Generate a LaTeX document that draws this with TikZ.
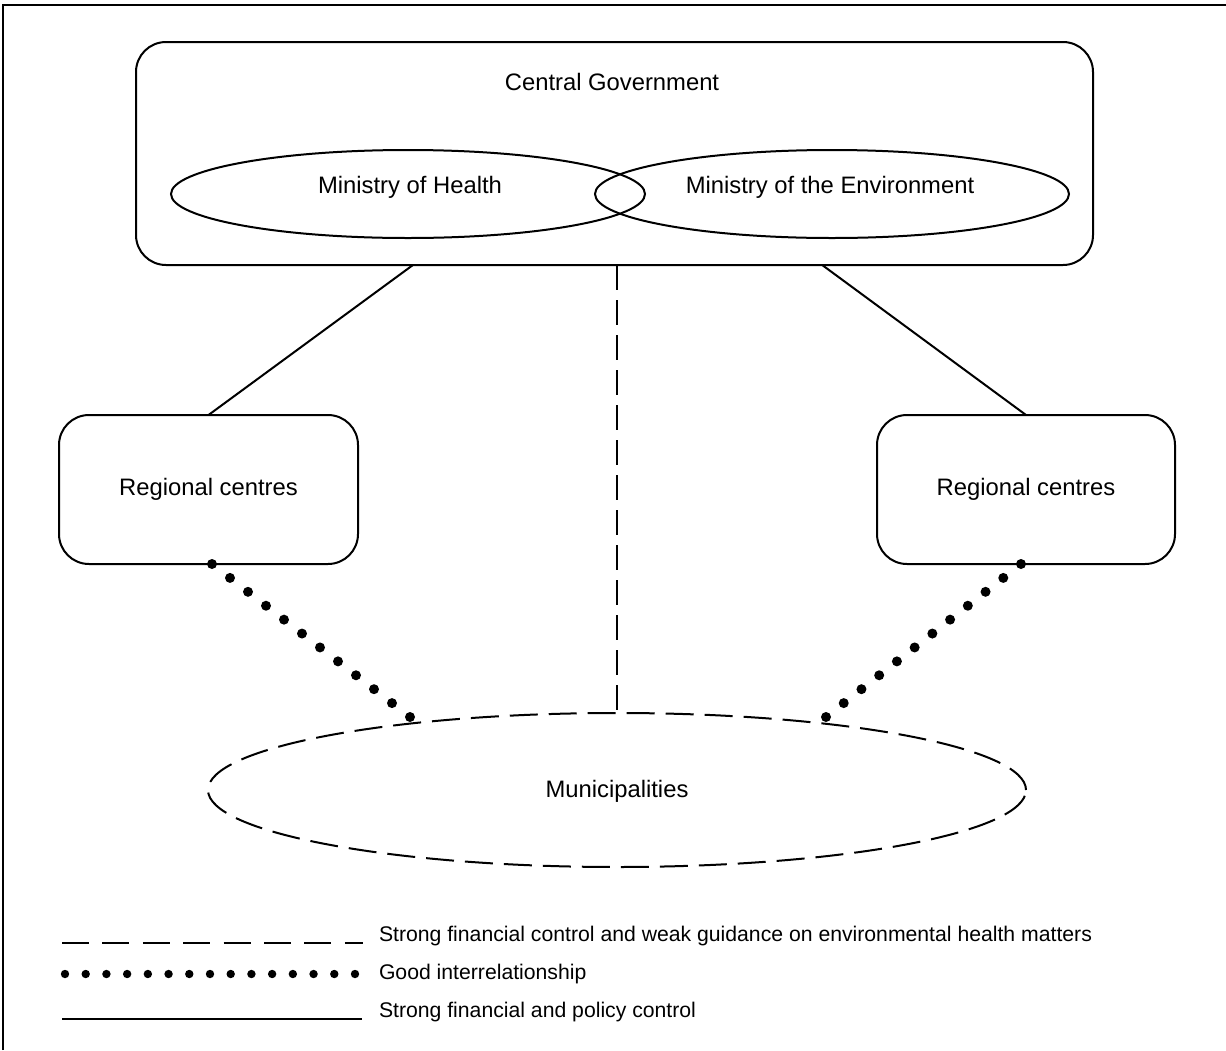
\documentclass[tikz,border=0pt]{standalone}
\usepackage{fontspec}
\setmainfont{Liberation Sans}
\usetikzlibrary{shapes.geometric,calc}
\begin{document}
\begin{tikzpicture}[x=0.5pt,y=-0.5pt,line width=1pt,
  every node/.style={inner sep=0pt,outer sep=0pt},
  rbox/.style={draw,rectangle,rounded corners=15pt},
  ell/.style={draw,ellipse},
  lbl/.style={font=\fontsize{11.9}{14}\selectfont},
  leg/.style={font=\fontsize{10.6}{13}\selectfont,anchor=west},
  dashlink/.style={dash pattern=on 12.5pt off 5pt},
  dashell/.style={dash pattern=on 14pt off 5.5pt},
  legdash/.style={dash pattern=on 13.5pt off 6.7pt},
  bigdot/.style={fill=black,draw=none},
]
\useasboundingbox (0,0) rectangle (1226,1050);
% outer frame (top and left edges visible)
\draw (3,1050) -- (3,5) -- (1226,5);

% central government
\node[rbox,minimum width=478.5pt,minimum height=111.5pt] (cg) at (614.5,153.5) {};
\node[lbl] (cgt) at (612,82) {Central Government};
\node[ell,minimum width=237pt,minimum height=44pt,lbl] (mh) at (408,194) {};
\node[ell,minimum width=237pt,minimum height=44pt,lbl] (me) at (832,194) {};
\node[lbl] (mht) at (410,187) {Ministry of Health};
\node[lbl] (met) at (830,187) {Ministry of the Environment};

% regional centres
\node[rbox,minimum width=149.5pt,minimum height=74.5pt,lbl] (lrc) at (208.5,489.5) {Regional centres};
\node[rbox,minimum width=149pt,minimum height=74.5pt,lbl] (rrc) at (1026,489.5) {Regional centres};

% municipalities
\node[ell,dashell,minimum width=409pt,minimum height=77pt,lbl] (mun) at (617,790) {};
\node[lbl] (munt) at (617,791) {Municipalities};

% solid links
\coordinate (cgL) at ($(cg.south west)!0.2894!(cg.south east)$);
\coordinate (cgR) at ($(cg.south west)!0.717!(cg.south east)$);
\draw (cgL) -- (lrc.north);
\draw (cgR) -- (rrc.north);

% dashed link
\draw[dashlink] (cg.south -| mun.north) -- (mun.north);

% dotted links
\coordinate (lrcB) at (212,564);
\coordinate (rrcB) at (1021,564);
\coordinate (munL) at (410,717);
\coordinate (munR) at (826,717);
\foreach \i in {0,...,11}{
  \fill[bigdot] ($(lrcB)!\i/11!(munL)$) circle (2.5pt);
  \fill[bigdot] ($(rrcB)!\i/11!(munR)$) circle (2.5pt);
}

% legend
\coordinate (l1a) at (62,943);
\coordinate (l1b) at (363,943);
\coordinate (l2a) at (65,974);
\coordinate (l2b) at (355,974);
\coordinate (l3a) at (62,1019);
\coordinate (l3b) at (362,1019);
\draw[legdash] (l1a) -- (l1b);
\foreach \i in {0,...,14}{
  \fill[bigdot] ($(l2a)!\i/14!(l2b)$) circle (2.1pt);
}
\draw (l3a) -- (l3b);
\node[leg] (t1) at (379,936) {Strong financial control and weak guidance on environmental health matters};
\node[leg] (t2) at (379,974) {Good interrelationship};
\node[leg] (t3) at (379,1012) {Strong financial and policy control};
\end{tikzpicture}
\end{document}
